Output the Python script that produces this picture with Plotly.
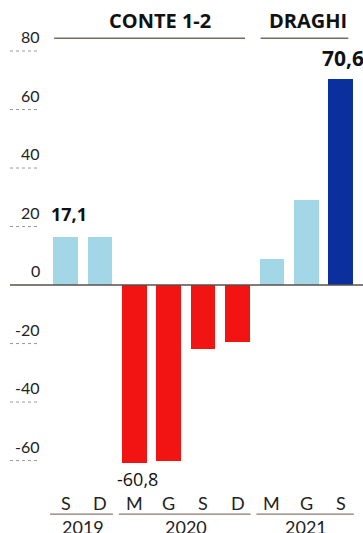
import plotly.graph_objects as go

months = ["S", "D", "M", "G", "S", "D", "M", "G", "S"]
years = ["2019", "2020", "2021"]
values = [16.3, 16.5, -60.8, -60.0, -22.0, -19.5, 9.0, 29.0, 70.6]
bar_colors = ["#a3d6e6", "#a3d6e6", "#f21313", "#f21313", "#f21313", "#f21313",
              "#a3d6e6", "#a3d6e6", "#0c2f9e"]
value_labels = {0: "17,1", 2: "-60,8", 8: "70,6"}
y_ticks = [80, 60, 40, 20, 0, -20, -40, -60]
# year groups: (label, first bar index, last bar index)
year_groups = [("2019", 0, 1), ("2020", 2, 5), ("2021", 6, 8)]
# government headers: (label, first bar index, last bar index)
gov_groups = [("CONTE 1-2", 0, 5), ("DRAGHI", 6, 8)]

W, H = 363, 533
X0, X1 = -1.904, 8.648
Y0, Y1 = -84.76, 97.44
HEADER_Y = 84.4

x = list(range(len(values)))
fig = go.Figure()
fig.add_trace(go.Bar(
    x=x, y=values, width=0.72,
    marker=dict(color=bar_colors, line=dict(width=0)),
    hoverinfo="skip",
))

font = "Lato"
anns = []
shapes = []

# y tick labels and dotted ticks
for t in y_ticks:
    anns.append(dict(x=42 / W, xref="paper", y=t, yref="y", text=str(t),
                     showarrow=False, xanchor="right", yanchor="bottom", yshift=3,
                     font=dict(family=font, size=16, color="#222")))
    if t != 0:
        shapes.append(dict(type="line", xref="paper", yref="y", x0=10 / W, x1=38 / W,
                           y0=t, y1=t, line=dict(color="#999", width=1, dash="dot")))

# zero line
shapes.append(dict(type="line", xref="paper", yref="y", x0=10 / W, x1=1, y0=0, y1=0,
                   line=dict(color="#5a5048", width=1.5)))

# government headers
header_centers = [160 / W, 308 / W]
for (lab, a, b), cx in zip(gov_groups, header_centers):
    x0 = a - 0.33
    x1 = min(b + 0.22, X1)
    shapes.append(dict(type="line", xref="x", yref="y", x0=x0, x1=x1, y0=HEADER_Y, y1=HEADER_Y,
                       line=dict(color="#7a6a60", width=1.5)))
    anns.append(dict(x=cx, xref="paper", y=HEADER_Y, yref="y",
                     text="<b>" + lab + "</b>",
                     showarrow=False, yanchor="bottom", yshift=2, xanchor="center",
                     font=dict(family="Open Sans", size=20, color="#111")))

# value labels
for i, lab in value_labels.items():
    v = values[i]
    if i == 8:
        anns.append(dict(x=i, xref="x", y=v, yref="y", text="<b>" + lab + "</b>",
                         showarrow=False, yanchor="bottom", yshift=5, xshift=2,
                         font=dict(family="Open Sans", size=21, color="#111")))
    elif v >= 0:
        anns.append(dict(x=i, xref="x", y=v, yref="y", text="<b>" + lab + "</b>",
                         showarrow=False, yanchor="bottom", yshift=9, xshift=3,
                         font=dict(family="Open Sans", size=18, color="#111")))
    else:
        anns.append(dict(x=i, xref="x", y=v, yref="y", text=lab,
                         showarrow=False, yanchor="top", yshift=-2, xshift=3,
                         font=dict(family="Open Sans", size=18, color="#111")))

# month labels
for i, m in enumerate(months):
    anns.append(dict(x=i, xref="x", y=-74.5, yref="y", text=m, showarrow=False,
                     yanchor="middle", font=dict(family=font, size=18, color="#222")))

# year underlines and labels
for lab, a, b in year_groups:
    shapes.append(dict(type="line", xref="x", yref="y", x0=a - 0.45, x1=min(b + 0.38, X1),
                       y0=-78.3, y1=-78.3, line=dict(color="#8a7a70", width=1.2)))
    anns.append(dict(x=(a + b) / 2, xref="x", y=-82.8, yref="y", text=lab, showarrow=False,
                     yanchor="middle", font=dict(family=font, size=18, color="#222")))

fig.update_layout(
    width=W, height=H, margin=dict(l=0, r=0, t=0, b=0),
    paper_bgcolor="white", plot_bgcolor="white",
    showlegend=False, bargap=0,
    xaxis=dict(range=[X0, X1], visible=False, fixedrange=True),
    yaxis=dict(range=[Y0, Y1], visible=False, fixedrange=True),
    annotations=anns, shapes=shapes,
)
fig.write_html("out.html", config={"displayModeBar": False},
               post_script="document.body.style.margin='0';document.body.style.overflow='hidden';")
